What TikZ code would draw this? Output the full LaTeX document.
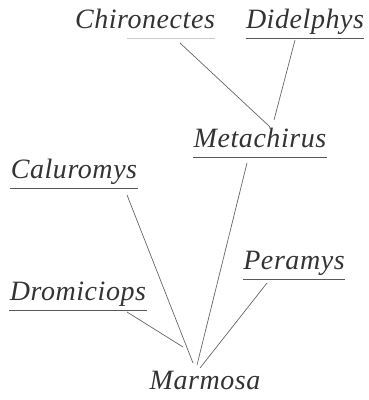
\documentclass[tikz,border=0pt]{standalone}
\usepackage{fontspec}
\setmainfont{Liberation Serif}
\usetikzlibrary{calc}
\newfontfamily\taxfont[LetterSpace=2]{Liberation Serif}

\begin{document}
\begin{tikzpicture}[
    x=0.5pt, y=-0.5pt,
    taxon/.style={font=\fontsize{14}{16}\taxfont\itshape, text=black!80,
                  inner xsep=0pt, inner ysep=1.5pt, text depth=3.2pt, anchor=south},
    rule/.style={draw=black!65, line width=0.4pt},
    link/.style={draw=black!60, line width=0.35pt},
]
    \useasboundingbox (0,0) rectangle (368,400);

    % upper group
    \node[taxon] (chironectes) at (145, 38) {Chironectes};
    \node[taxon] (didelphys)   at (305, 38) {Didelphys};
    \node[taxon] (metachirus)  at (260,157) {Metachirus};

    % lower group
    \node[taxon] (caluromys)   at ( 74,188) {Caluromys};
    \node[taxon] (peramys)     at (294,279) {Peramys};
    \node[taxon] (dromiciops)  at ( 78,310) {Dromiciops};
    \node[taxon, anchor=base] (marmosa) at (205,389) {Marmosa};

    % underlines
    \foreach \n in {didelphys, metachirus, caluromys, peramys, dromiciops}
        \draw[rule] (\n.south west) -- (\n.south east);
    \draw[rule, draw=black!20] ([xshift=-9pt]chironectes.south) -- (chironectes.south east);

    \draw[link] ($(chironectes.south)+(35,5)$) -- ($(metachirus.south)+(10,-30)$);
    \draw[link] ($(didelphys.south)+(-10,2)$)  -- ($(metachirus.south)+(14,-37)$);
    \draw[link] ($(metachirus.south)+(-13,6)$) -- ($(marmosa.base)+(-8,-24)$);
    \draw[link] ($(caluromys.south)+(53,7)$)   -- ($(marmosa.base)+(-12,-26)$);
    \draw[link] ($(peramys.south)+(-27,4)$)    -- ($(marmosa.base)+(-5,-21)$);
    \draw[link] ($(dromiciops.south)+(49,2)$)  -- ($(marmosa.base)+(-22,-42)$);
\end{tikzpicture}
\end{document}
